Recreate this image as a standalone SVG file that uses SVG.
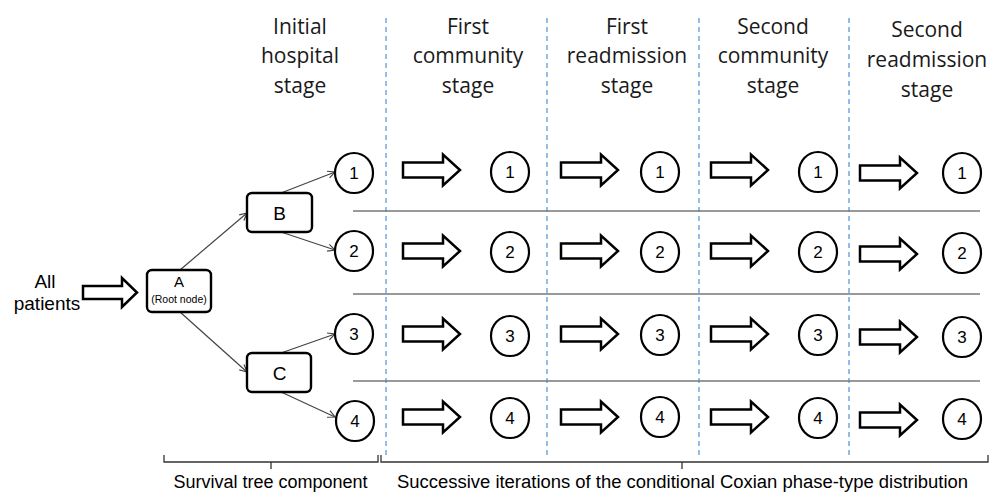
<svg xmlns="http://www.w3.org/2000/svg" width="990" height="495" viewBox="0 0 990 495">
<style>
.hdr{font-family:"Open Sans","Liberation Sans",sans-serif;font-size:21px;fill:#1a1a1a;text-anchor:middle}
.lbl{font-family:"Liberation Sans",Arial,sans-serif;fill:#000;text-anchor:middle}
.num{font-family:"Liberation Sans",Arial,sans-serif;font-size:17px;fill:#000;text-anchor:middle}
.circ{fill:#fff;stroke:#000;stroke-width:2.2}
.box{fill:#fff;stroke:#000;stroke-width:2.4}
.harrow{fill:#fff;stroke:#000;stroke-width:2.5;stroke-linejoin:miter}
.dash{stroke:#5b9bd5;stroke-width:1.3;stroke-dasharray:5 4;fill:none}
.div{stroke:#777;stroke-width:1.5;fill:none}
.edge{stroke:#444;stroke-width:1.2;fill:none;marker-end:url(#open)}
.brace{stroke:#333;stroke-width:1.3;fill:none}
</style>
<defs>
<marker id="open" viewBox="0 0 10 10" refX="9" refY="5" markerWidth="9" markerHeight="9" markerUnits="userSpaceOnUse" orient="auto">
<path d="M1,1 L9,5 L1,9" fill="none" stroke="#444" stroke-width="1.3"/>
</marker>
<path id="harr" class="harrow" d="M0,-7.5 H40 V-15.5 L57,0 L40,15.5 V7.5 H0 Z"/>
</defs>

<!-- headers -->
<g id="headers">
<text class="hdr" x="300" y="34">Initial</text>
<text class="hdr" x="300" y="63">hospital</text>
<text class="hdr" x="300" y="93">stage</text>
<text class="hdr" x="468" y="34">First</text>
<text class="hdr" x="468" y="63">community</text>
<text class="hdr" x="468" y="93">stage</text>
<text class="hdr" x="627" y="34">First</text>
<text class="hdr" x="627" y="63">readmission</text>
<text class="hdr" x="627" y="93">stage</text>
<text class="hdr" x="773" y="34">Second</text>
<text class="hdr" x="773" y="63">community</text>
<text class="hdr" x="773" y="93">stage</text>
<text class="hdr" x="927" y="37">Second</text>
<text class="hdr" x="927" y="67">readmission</text>
<text class="hdr" x="927" y="97">stage</text>
</g>

<!-- separators -->
<g id="separators">
<line class="dash" x1="386" y1="18" x2="386" y2="458"/>
<line class="dash" x1="547" y1="18" x2="547" y2="458"/>
<line class="dash" x1="699" y1="18" x2="699" y2="458"/>
<line class="dash" x1="849" y1="18" x2="849" y2="458"/>
<line class="div" x1="353" y1="211" x2="980" y2="211"/>
<line class="div" x1="353" y1="294" x2="980" y2="294"/>
<line class="div" x1="353" y1="381" x2="980" y2="381"/>
</g>

<!-- connectors -->
<g id="connectors">
<line class="edge" x1="180" y1="270" x2="247" y2="213"/>
<line class="edge" x1="180" y1="312" x2="247" y2="372"/>
<line class="edge" x1="281" y1="193" x2="335" y2="172"/>
<line class="edge" x1="281" y1="232" x2="335" y2="250"/>
<line class="edge" x1="281" y1="353" x2="335" y2="334"/>
<line class="edge" x1="281" y1="392" x2="335" y2="417"/>
<path class="harrow" d="M83,286 H122 V278 L137,292.5 L122,307 V299 H83 Z"/>
<use href="#harr" x="403" y="170"/>
<use href="#harr" x="403" y="251"/>
<use href="#harr" x="403" y="334"/>
<use href="#harr" x="403" y="417"/>
<use href="#harr" x="561" y="170"/>
<use href="#harr" x="561" y="251"/>
<use href="#harr" x="561" y="334"/>
<use href="#harr" x="561" y="417"/>
<use href="#harr" x="711" y="170"/>
<use href="#harr" x="711" y="251"/>
<use href="#harr" x="711" y="334"/>
<use href="#harr" x="711" y="417"/>
<use href="#harr" x="860" y="173"/>
<use href="#harr" x="860" y="254"/>
<use href="#harr" x="860" y="337"/>
<use href="#harr" x="860" y="420"/>
</g>

<g id="all-patients">
<text class="lbl" x="45" y="288" font-size="19">All</text>
<text class="lbl" x="47" y="310" font-size="19">patients</text>
</g>

<g id="node-A">
<rect class="box" x="147" y="270" width="64" height="42" rx="5"/>
<text class="lbl" x="179" y="287" font-size="15">A</text>
<text class="lbl" x="179" y="303" font-size="10.5">(Root node)</text>
</g>
<g id="node-B">
<rect class="box" x="247" y="193" width="65" height="39" rx="5"/>
<text class="lbl" x="279.5" y="220" font-size="19">B</text>
</g>
<g id="node-C">
<rect class="box" x="247" y="353" width="64" height="39" rx="5"/>
<text class="lbl" x="279.5" y="380" font-size="19">C</text>
</g>

<!-- column 1 leaves -->
<g id="c1-1"><ellipse class="circ" cx="354" cy="173" rx="19" ry="20"/><text class="num" x="354" y="179">1</text></g>
<g id="c1-2"><ellipse class="circ" cx="354" cy="251" rx="19" ry="20"/><text class="num" x="354" y="257">2</text></g>
<g id="c1-3"><ellipse class="circ" cx="354" cy="334" rx="19" ry="20"/><text class="num" x="354" y="340">3</text></g>
<g id="c1-4"><ellipse class="circ" cx="355" cy="421" rx="19" ry="20"/><text class="num" x="355" y="427">4</text></g>

<g id="c2-1"><ellipse class="circ" cx="510" cy="172" rx="19" ry="20"/><text class="num" x="510" y="178">1</text></g>
<g id="c2-2"><ellipse class="circ" cx="510" cy="252" rx="19" ry="20"/><text class="num" x="510" y="258">2</text></g>
<g id="c2-3"><ellipse class="circ" cx="510" cy="336" rx="19" ry="20"/><text class="num" x="510" y="342">3</text></g>
<g id="c2-4"><ellipse class="circ" cx="510" cy="418" rx="19" ry="20"/><text class="num" x="510" y="424">4</text></g>

<g id="c3-1"><ellipse class="circ" cx="660" cy="172" rx="19" ry="20"/><text class="num" x="660" y="178">1</text></g>
<g id="c3-2"><ellipse class="circ" cx="660" cy="252" rx="19" ry="20"/><text class="num" x="660" y="258">2</text></g>
<g id="c3-3"><ellipse class="circ" cx="660" cy="335" rx="19" ry="20"/><text class="num" x="660" y="341">3</text></g>
<g id="c3-4"><ellipse class="circ" cx="660" cy="417" rx="19" ry="20"/><text class="num" x="660" y="423">4</text></g>

<g id="c4-1"><ellipse class="circ" cx="818" cy="172" rx="19" ry="20"/><text class="num" x="818" y="178">1</text></g>
<g id="c4-2"><ellipse class="circ" cx="818" cy="252" rx="19" ry="20"/><text class="num" x="818" y="258">2</text></g>
<g id="c4-3"><ellipse class="circ" cx="818" cy="335" rx="19" ry="20"/><text class="num" x="818" y="341">3</text></g>
<g id="c4-4"><ellipse class="circ" cx="818" cy="418" rx="19" ry="20"/><text class="num" x="818" y="424">4</text></g>

<g id="c5-1"><ellipse class="circ" cx="962" cy="173" rx="19" ry="20"/><text class="num" x="962" y="179">1</text></g>
<g id="c5-2"><ellipse class="circ" cx="962" cy="253" rx="19" ry="20"/><text class="num" x="962" y="259">2</text></g>
<g id="c5-3"><ellipse class="circ" cx="962" cy="337" rx="19" ry="20"/><text class="num" x="962" y="343">3</text></g>
<g id="c5-4"><ellipse class="circ" cx="962" cy="419" rx="19" ry="20"/><text class="num" x="962" y="425">4</text></g>

<!-- bottom braces -->
<g id="braces">
<path class="brace" d="M164,455 V462 H378 V455 M271,462 V469"/>
<path class="brace" d="M381,455 V462 H988 V455 M682,462 V469"/>
<text class="lbl" x="270.5" y="488" font-size="18">Survival tree component</text>
<text class="lbl" x="682.5" y="488" font-size="18" textLength="571" lengthAdjust="spacingAndGlyphs">Successive iterations of the conditional Coxian phase-type distribution</text>
</g>
</svg>
